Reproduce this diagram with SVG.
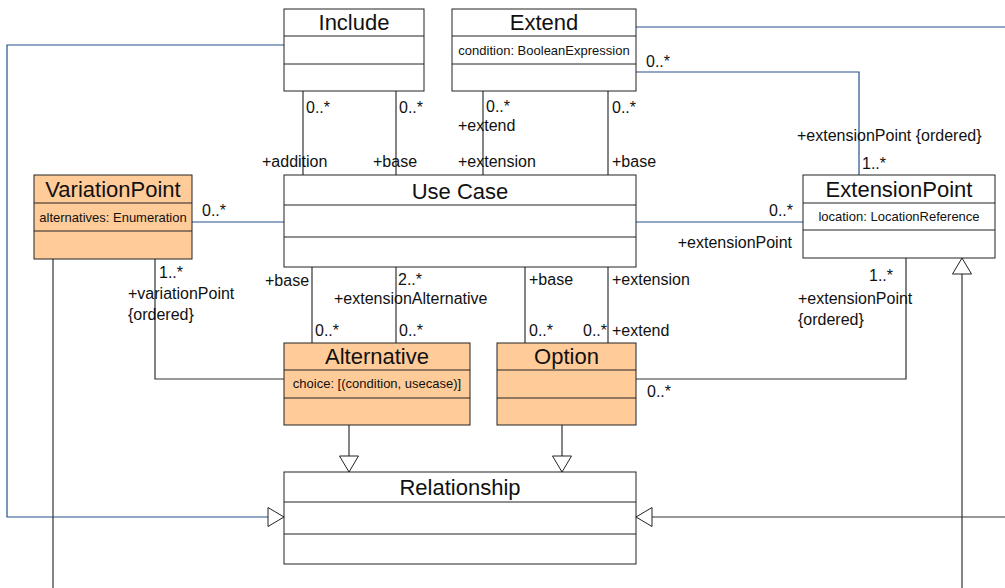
<svg xmlns="http://www.w3.org/2000/svg" width="1005" height="588" viewBox="0 0 1005 588">
<style>
.box{fill:#fff;stroke:#222;stroke-width:1}
.org{fill:#ffcc99;stroke:#222;stroke-width:1}
.sep{stroke:#222;stroke-width:1}
.name{font-family:"Liberation Sans",Arial,sans-serif;font-size:22px;fill:#111;text-anchor:middle}
.attr{font-family:"Liberation Sans",Arial,sans-serif;font-size:13px;fill:#111;text-anchor:middle}
.lbl{font-family:"Liberation Sans",Arial,sans-serif;font-size:16px;fill:#111}
.end{text-anchor:end}
.gl{fill:none;stroke:#333;stroke-width:1.2}
.bl{fill:none;stroke:#24508a;stroke-width:1.2}
</style>
<defs>
<marker id="tri" markerUnits="userSpaceOnUse" markerWidth="20" markerHeight="24" viewBox="-2 -12 20 24" refX="16" refY="0" orient="auto">
<path d="M0,-9.5 L16,0 L0,9.5 Z" fill="#fff" stroke="#222" stroke-width="1"/>
</marker>
</defs>
<rect width="1005" height="588" fill="#fff"/>
<g id="connectors">
<path class="bl" d="M284,45 H7 V517 H284" marker-end="url(#tri)"/>
<path class="gl" d="M303,91 V175"/>
<path class="gl" d="M396,91 V175"/>
<path class="gl" d="M483,91 V175"/>
<path class="gl" d="M608,91 V175"/>
<path class="bl" d="M636,27 H1005"/>
<path class="bl" d="M636,72 H859 V175"/>
<path class="bl" d="M192,222 H284"/>
<path class="bl" d="M636,222 H803"/>
<path class="gl" d="M312,267 V343"/>
<path class="gl" d="M396,267 V343"/>
<path class="gl" d="M525,267 V343"/>
<path class="gl" d="M608,267 V343"/>
<path class="gl" d="M155,259 V379 H284"/>
<path class="gl" d="M53,259 V588"/>
<path class="gl" d="M906,258 V379 H636"/>
<path class="gl" d="M962,588 V258" marker-end="url(#tri)"/>
<path class="gl" d="M1005,517 H636" marker-end="url(#tri)"/>
<path class="gl" d="M349,425 V472" marker-end="url(#tri)"/>
<path class="gl" d="M562,425 V472" marker-end="url(#tri)"/>
<text class="lbl" x="306" y="113">0..*</text>
<text class="lbl" x="262" y="167">+addition</text>
<text class="lbl" x="399" y="113">0..*</text>
<text class="lbl" x="373" y="167">+base</text>
<text class="lbl" x="486" y="112">0..*</text>
<text class="lbl" x="458" y="131">+extend</text>
<text class="lbl" x="458" y="167">+extension</text>
<text class="lbl" x="612" y="113">0..*</text>
<text class="lbl" x="612" y="167">+base</text>
<text class="lbl" x="646" y="67">0..*</text>
<text class="lbl" x="797" y="141">+extensionPoint {ordered}</text>
<text class="lbl" x="862" y="169">1..*</text>
<text class="lbl" x="202" y="216">0..*</text>
<text class="lbl end" x="793" y="216">0..*</text>
<text class="lbl end" x="792" y="248">+extensionPoint</text>
<text class="lbl" x="159" y="278">1..*</text>
<text class="lbl" x="128" y="299">+variationPoint</text>
<text class="lbl" x="128" y="320">{ordered}</text>
<text class="lbl" x="265" y="286">+base</text>
<text class="lbl" x="315" y="336">0..*</text>
<text class="lbl" x="398" y="285">2..*</text>
<text class="lbl" x="334" y="304">+extensionAlternative</text>
<text class="lbl" x="399" y="336">0..*</text>
<text class="lbl" x="529" y="285">+base</text>
<text class="lbl" x="529" y="336">0..*</text>
<text class="lbl end" x="607" y="336">0..*</text>
<text class="lbl" x="612" y="285">+extension</text>
<text class="lbl" x="612" y="336">+extend</text>
<text class="lbl end" x="893" y="281">1..*</text>
<text class="lbl" x="798" y="304">+extensionPoint</text>
<text class="lbl" x="798" y="325">{ordered}</text>
<text class="lbl" x="647" y="397">0..*</text>
</g>
<g id="include">
<rect class="box" x="284" y="9" width="140" height="82"/>
<path class="sep" d="M284,36 H424 M284,64 H424"/>
<text class="name" x="354" y="30">Include</text>
</g>
<g id="extend">
<rect class="box" x="452" y="9" width="184" height="82"/>
<path class="sep" d="M452,36 H636 M452,64 H636"/>
<text class="name" x="544" y="30">Extend</text>
<text class="attr" x="544" y="55">condition: BooleanExpression</text>
</g>
<g id="usecase">
<rect class="box" x="284" y="175" width="352" height="92"/>
<path class="sep" d="M284,205 H636 M284,237 H636"/>
<text class="name" x="460" y="199">Use Case</text>
</g>
<g id="variationpoint">
<rect class="org" x="34" y="175" width="158" height="84"/>
<path class="sep" d="M34,203 H192 M34,231 H192"/>
<text class="name" x="113" y="197">VariationPoint</text>
<text class="attr" x="113" y="222">alternatives: Enumeration</text>
</g>
<g id="extensionpoint">
<rect class="box" x="803" y="175" width="192" height="83"/>
<path class="sep" d="M803,203 H995 M803,230 H995"/>
<text class="name" x="899" y="197">ExtensionPoint</text>
<text class="attr" x="899" y="221">location: LocationReference</text>
</g>
<g id="alternative">
<rect class="org" x="284" y="343" width="186" height="82"/>
<path class="sep" d="M284,370 H470 M284,398 H470"/>
<text class="name" x="377" y="364">Alternative</text>
<text class="attr" x="377" y="388">choice: [(condition, usecase)]</text>
</g>
<g id="option">
<rect class="org" x="497" y="343" width="139" height="82"/>
<path class="sep" d="M497,370 H636 M497,398 H636"/>
<text class="name" x="566.5" y="364">Option</text>
</g>
<g id="relationship">
<rect class="box" x="284" y="472" width="352" height="92"/>
<path class="sep" d="M284,502 H636 M284,534 H636"/>
<text class="name" x="460" y="495">Relationship</text>
</g>
</svg>
